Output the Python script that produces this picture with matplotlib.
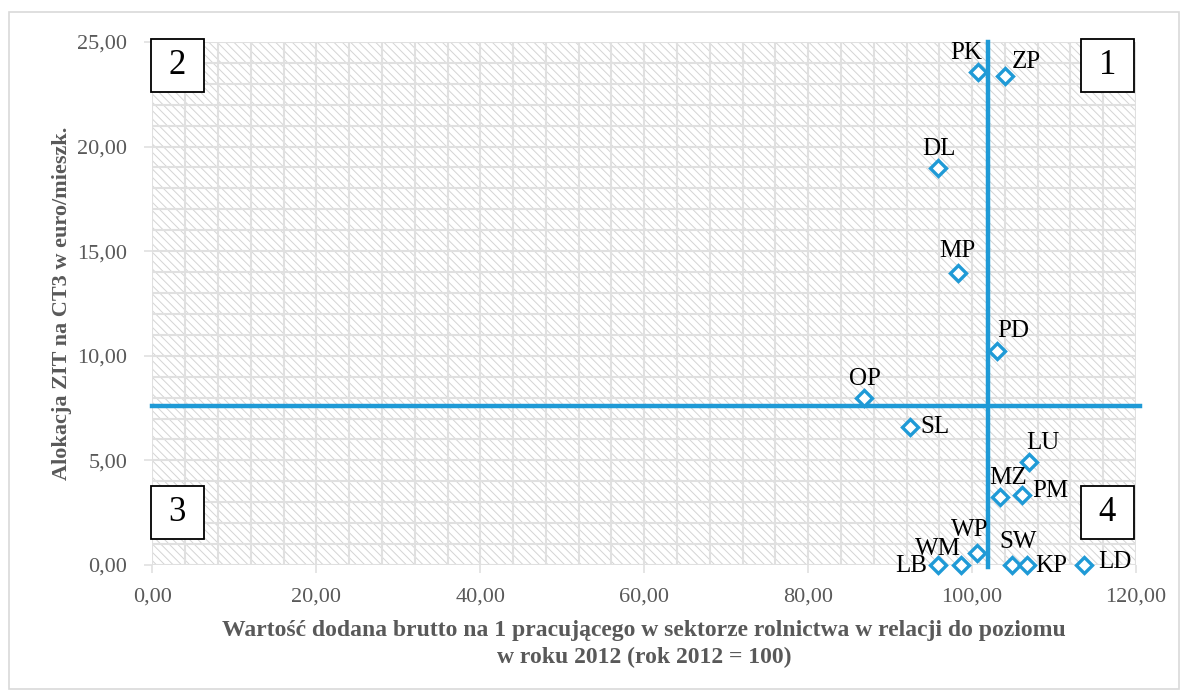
import numpy as np
import matplotlib
matplotlib.use('Agg')
import matplotlib.pyplot as plt
from matplotlib.patches import Rectangle
from matplotlib.ticker import FuncFormatter, MultipleLocator

# region codes and their values
labels = ['PK', 'ZP', 'DL', 'MP', 'PD', 'OP', 'SL', 'LU', 'MZ', 'PM',
          'WP', 'WM', 'LB', 'SW', 'KP', 'LD']
gva = [100.7, 104.0, 95.9, 98.3, 103.1, 86.8, 92.4, 107.0, 103.4, 106.1,
       100.6, 98.7, 95.9, 104.9, 106.7, 113.6]
zit = [23.55, 23.39, 18.99, 13.98, 10.23, 7.98, 6.6, 4.94, 3.24, 3.35,
       0.59, 0.0, 0.0, 0.0, 0.0, 0.0]
# label offsets in pixels (dx, dy)
offsets = [(-12, 19), (21, 14), (0, 19), (-1, 22), (16, 20), (1, 19),
           (25, 0), (13, 19), (8, 19), (28, 4), (-7, 23), (-23, 16),
           (-27, -1), (6, 23), (24, -1), (31, 3)]

x_mean = 101.9
y_mean = 7.6

blue = '#1f9ad6'
grey = '#595959'
gridc = '#e0e0e0'

plt.rcParams['font.family'] = ['Liberation Serif', 'DejaVu Serif']
plt.rcParams['hatch.color'] = '#d4d4d4'
plt.rcParams['hatch.linewidth'] = 0.7


def fmt(v, pos):
    return f'{v:.2f}'.replace('.', ',')


fig = plt.figure(figsize=(11.81, 6.96), dpi=100)
ax = fig.add_axes([0.1291, 0.1882, 0.8328, 0.7515])

# outer frame
fig.patches.append(Rectangle((9 / 1181, 7 / 696), 1170 / 1181, 677 / 696,
                             transform=fig.transFigure, fill=False,
                             edgecolor='#d9d9d9', linewidth=1.2))

ax.set_xlim(0, 120)
ax.set_ylim(0, 25)

# hatched plot background
ax.add_patch(Rectangle((0, 0), 1, 1, transform=ax.transAxes,
                       facecolor='white', hatch='\\\\\\\\', edgecolor='#d4d4d4',
                       linewidth=0, zorder=0))

ax.xaxis.set_major_locator(MultipleLocator(20))
ax.xaxis.set_minor_locator(MultipleLocator(4))
ax.yaxis.set_major_locator(MultipleLocator(5))
ax.yaxis.set_minor_locator(MultipleLocator(1))
ax.xaxis.set_major_formatter(FuncFormatter(fmt))
ax.yaxis.set_major_formatter(FuncFormatter(fmt))
ax.grid(which='both', color=gridc, linewidth=1.5, zorder=1)
ax.set_axisbelow(True)

for s in ax.spines.values():
    s.set_visible(False)
ax.tick_params(which='major', length=6, color=gridc, width=1.2,
               labelsize=16, labelcolor=grey, pad=10)
ax.tick_params(which='minor', length=0)
ax.tick_params(axis='y', pad=12)

# mean lines
ax.plot([0, 120.5], [y_mean, y_mean], color=blue, linewidth=3.2,
        clip_on=False, zorder=3)
ax.plot([x_mean, x_mean], [-0.1, 25], color=blue, linewidth=3.2,
        clip_on=False, zorder=3)

ax.plot(gva, zit, linestyle='none', marker='D', markersize=8.5,
        markerfacecolor='white', markeredgecolor=blue, markeredgewidth=2.4,
        clip_on=False, zorder=4)

for lab, x, y, (dx, dy) in zip(labels, gva, zit, offsets):
    ax.annotate(lab, (x, y), xytext=(dx, dy), textcoords='offset pixels',
                ha='center', va='center', fontsize=18, color='black',
                zorder=5, annotation_clip=False)

# quadrant boxes (axes fraction)
boxes = [('2', -0.002, 0.904), ('1', 0.944, 0.904),
         ('3', -0.002, 0.05), ('4', 0.944, 0.05)]
for txt, bx, by in boxes:
    ax.add_patch(Rectangle((bx, by), 0.054, 0.101, transform=ax.transAxes,
                           facecolor='white', edgecolor='black',
                           linewidth=1.3, zorder=6, clip_on=False))
    ax.text(bx + 0.027, by + 0.0505, txt, transform=ax.transAxes,
            ha='center', va='center', fontsize=25, color='black', zorder=7)

ax.set_xlabel('Wartość dodana brutto na 1 pracującego w sektorze rolnictwa '
              'w relacji do poziomu\nw roku 2012 (rok 2012 = 100)',
              fontsize=17, fontweight='bold', color=grey, labelpad=10,
              linespacing=1.35)
ax.set_ylabel('Alokacja ZIT na CT3 w euro/mieszk.', fontsize=16,
              fontweight='bold', color=grey, labelpad=4)

fig.savefig('out.png', dpi=100)
